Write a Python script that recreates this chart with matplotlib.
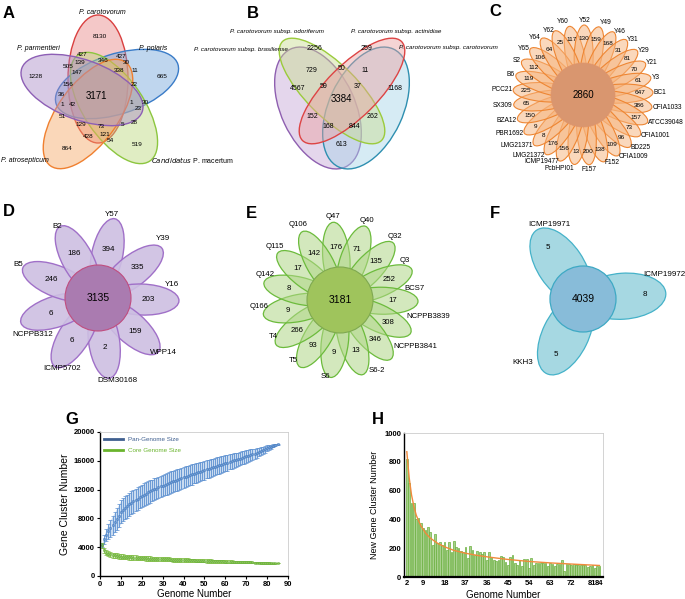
import numpy as np
import matplotlib.pyplot as plt
from matplotlib.patches import Ellipse, Circle
from matplotlib.lines import Line2D
from matplotlib.colors import to_rgba

plt.rcParams['font.family'] = ['Liberation Sans', 'DejaVu Sans']

# ---------------- data ----------------
# A: five species venn
a_names = ['P. carotovorum', 'P. parmentieri', 'P. polaris', 'P. atrosepticum']
a_counts = [8130, 1228, 665, 864, 519, 3171, 427, 427, 505, 139, 346, 30, 338, 11, 147,
            156, 22, 36, 1, 42, 1, 30, 23, 51, 129, 73, 5, 28, 428, 121, 54]

# B: P. carotovorum subspecies venn
b_names = ['P. carotovorum subsp. odoriferum', 'P. carotovorum subsp. brasiliense',
           'P. carotovorum subsp. actinidiae', 'P. carotovorum subsp. carotovorum']
b_counts = [2256, 259, 729, 50, 11, 4567, 59, 37, 1168, 3384, 152, 262, 168, 844, 613]

# C: P. carotovorum strains flower
c_core = 2860
c_strains = ['Y60', 'Y52', 'Y49', 'Y46', 'Y31', 'Y29', 'Y21', 'Y3', 'BC1', 'CFIA1033',
             'ATCC39048', 'CFIA1001', 'BD225', 'CFIA1009', 'F152', 'F157', 'PcbHPI01',
             'ICMP19477', 'LMG21372', 'LMG21371', 'PBR1692', 'BZA12', 'SX309', 'PCC21',
             'B6', 'S2', 'Y65', 'Y64', 'Y62']
c_unique = [117, 130, 159, 168, 31, 81, 70, 61, 647, 386, 157, 73, 96, 109, 138, 200, 13,
            156, 176, 8, 9, 150, 65, 225, 119, 112, 106, 64, 25]

# D
d_core = 3135
d_strains = ['Y57', 'Y39', 'Y16', 'WPP14', 'DSM30168', 'ICMP5702', 'NCPPB312', 'B5', 'B2']
d_unique = [394, 335, 203, 159, 2, 6, 6, 246, 186]

# E
e_core = 3181
e_strains = ['Q47', 'Q40', 'Q32', 'Q3', 'BCS7', 'NCPPB3839', 'NCPPB3841', 'S6-2', 'S6',
             'T5', 'T4', 'Q166', 'Q142', 'Q115', 'Q106']
e_unique = [176, 71, 135, 252, 17, 308, 346, 13, 9, 93, 266, 9, 8, 17, 142]

# F
f_core = 4039
f_strains = ['ICMP19971', 'ICMP19972', 'KKH3']
f_unique = [5, 8, 5]

# G: pan / core genome curves
g_genomes = np.arange(1, 86)
pan_mean = [4300, 5100, 5700, 6200, 6600, 7050, 7450, 7900, 8400, 8900,
            9200, 9450, 9700, 9950, 10150, 10350, 10550, 10750, 10950, 11150,
            11300, 11450, 11600, 11750, 11900, 12050, 12150, 12300, 12450, 12550,
            12700, 12800, 12900, 13050, 13150, 13250, 13350, 13450, 13600, 13700,
            13800, 13900, 14000, 14100, 14200, 14300, 14400, 14500, 14600, 14700,
            14800, 14900, 15000, 15100, 15200, 15300, 15350, 15450, 15550, 15650,
            15750, 15850, 15950, 16050, 16100, 16200, 16300, 16400, 16500, 16600,
            16700, 16800, 16900, 17000, 17100, 17200, 17350, 17450, 17600, 17750,
            17850, 17950, 18100, 18200, 18300]
pan_err = [300, 600, 800, 1000, 1200, 1300, 1400, 1500, 1550, 1600,
           1600, 1600, 1600, 1600, 1600, 1600, 1550, 1550, 1550, 1550,
           1550, 1550, 1550, 1550, 1500, 1500, 1500, 1500, 1500, 1500,
           1500, 1500, 1500, 1500, 1500, 1500, 1500, 1450, 1450, 1450,
           1450, 1400, 1400, 1400, 1350, 1350, 1350, 1300, 1300, 1300,
           1250, 1250, 1250, 1200, 1200, 1200, 1150, 1150, 1150, 1100,
           1100, 1050, 1050, 1000, 1000, 950, 950, 900, 900, 850,
           800, 800, 750, 700, 650, 600, 550, 500, 450, 400,
           350, 300, 250, 150, 80]
core_mean = [4300, 3550, 3250, 3100, 3000, 2900, 2850, 2800, 2750, 2700,
             2680, 2650, 2630, 2600, 2580, 2560, 2540, 2520, 2500, 2480,
             2460, 2450, 2430, 2420, 2400, 2390, 2370, 2360, 2350, 2340,
             2320, 2310, 2300, 2290, 2270, 2260, 2250, 2240, 2230, 2220,
             2200, 2190, 2180, 2170, 2160, 2150, 2140, 2130, 2120, 2110,
             2100, 2090, 2080, 2070, 2060, 2050, 2040, 2030, 2020, 2010,
             2000, 1990, 1980, 1970, 1960, 1950, 1940, 1930, 1920, 1910,
             1900, 1890, 1880, 1870, 1860, 1850, 1840, 1830, 1820, 1810,
             1800, 1795, 1790, 1785, 1780]
core_err = [350, 400, 400, 380, 370, 360, 350, 350, 340, 340,
            330, 330, 330, 320, 320, 320, 310, 310, 310, 300,
            300, 300, 300, 300, 300, 290, 290, 290, 290, 280,
            280, 280, 280, 270, 270, 270, 270, 260, 260, 260,
            260, 250, 250, 250, 250, 240, 240, 240, 230, 230,
            230, 220, 220, 220, 210, 210, 200, 200, 200, 190,
            190, 180, 180, 170, 170, 160, 160, 150, 150, 140,
            140, 130, 130, 120, 120, 110, 110, 100, 100, 90,
            80, 70, 60, 50, 40]

# H: new gene clusters
h_genomes = np.arange(2, 85)
h_new = [820, 655, 516, 512, 400, 407, 373, 338, 326, 345,
         315, 222, 300, 234, 245, 222, 245, 188, 240, 176,
         250, 210, 199, 183, 176, 206, 134, 215, 188, 153,
         180, 171, 157, 176, 118, 171, 141, 115, 110, 115,
         145, 140, 105, 85, 140, 150, 95, 80, 120, 75,
         125, 125, 65, 135, 85, 100, 100, 100, 100, 95,
         75, 100, 90, 75, 90, 90, 120, 45, 90, 90,
         85, 90, 80, 85, 85, 80, 85, 70, 75, 85,
         65, 75, 75]
h_fit_x = [2, 3, 4, 5, 6, 7, 8, 10, 12, 15, 18, 22, 27, 32, 37, 45, 54, 63, 72, 84]
h_fit_y = [870, 690, 570, 490, 430, 390, 355, 305, 270, 235, 210, 185, 165, 150, 138,
           122, 108, 98, 90, 80]
h_ticks = [2, 9, 18, 27, 36, 45, 54, 63, 72, 81, 84]
h_ticklabels = ['2', '9', '18', '37', '36', '45', '54', '63', '72', '81', '84']

# ---------------- layout ----------------
fig = plt.figure(figsize=(6.85, 5.99), dpi=100)
ax = fig.add_axes([0, 0, 1, 1])
ax.set_xlim(0, 685)
ax.set_ylim(599, 0)
ax.axis('off')


def ell(x, y, length, width, ang, fc, ec, alpha=0.5, lw=1.0, z=1):
    # ang = screen angle, counter clockwise
    ax.add_patch(Ellipse((x, y), length, width, angle=-ang, fc=to_rgba(fc, alpha),
                         ec=ec, lw=lw, zorder=z))


def petals(cx, cy, angles, rc, length, width, fc, ec, alpha, lw=0.9):
    for a in angles:
        t = np.radians(a)
        ell(cx + rc * np.cos(t), cy - rc * np.sin(t), length, width, a, fc, ec, alpha, lw)


def polar(cx, cy, r, a):
    t = np.radians(a)
    return cx + r * np.cos(t), cy - r * np.sin(t)


# ---- A ----
ax.text(3, 14, 'A', fontsize=12, fontweight='bold', va='center')
a_ell = [((98, 79), 90, '#E88585', '#D94040'),
         ((117, 84), 18, '#72A5DA', '#3A7CC8'),
         ((114, 108), -56, '#BBD97A', '#8CC63F'),
         ((88, 114), 54, '#F6A864', '#F08030'),
         ((82, 90), 160, '#A98AC6', '#8D5FB5')]
for (x, y), ang, fc, ec in a_ell:
    ell(x, y, 128, 60, ang, fc, ec, alpha=0.45, lw=1.0)
a_pos = [(100, 37), (36, 76), (162, 76), (67, 148), (137, 145), (96, 96), (82, 54), (121, 56),
         (68, 67), (80, 62), (103, 61), (126, 63), (119, 71), (135, 71), (77, 73), (68, 84),
         (134, 85), (61, 94), (62, 104), (72, 104), (131, 103), (145, 102), (138, 109),
         (62, 116), (81, 125), (101, 126), (123, 124), (134, 123), (88, 136), (105, 135),
         (110, 141)]
for v, (x, y) in zip(a_counts, a_pos):
    ax.text(x, y, str(v), fontsize=7 if v == 3171 else 4.6, ha='center', va='center', zorder=5)
a_lab_pos = [(102, 13), (38, 48), (153, 48), (25, 161)]
for name, (x, y) in zip(a_names, a_lab_pos):
    ax.text(x, y, name, fontsize=5, style='italic', ha='center', va='center')
ax.text(192, 160, r'$\it{Candidatus}$ P. macertum', fontsize=5, ha='center', va='center')

# ---- B ----
ax.text(247, 14, 'B', fontsize=12, fontweight='bold', va='center')
b_ell = [((318, 108), 130, 74, -65, '#C4A5D6', '#8E5FB0'),
         ((366, 108), 130, 74, 65, '#A6D3E8', '#2E8FB0'),
         ((332, 91), 140, 52, -45, '#C9DD8E', '#9BCB3C'),
         ((352, 91), 140, 52, 45, '#EBA0A0', '#DD4444')]
for (x, y), L, W, ang, fc, ec in b_ell:
    ell(x, y, L, W, ang, fc, ec, alpha=0.45, lw=1.0)
b_pos = [(314, 49), (367, 48), (312, 71), (342, 68), (365, 71), (298, 88), (324, 86),
         (358, 86), (395, 88), (341, 99), (312, 117), (373, 117), (328, 126), (355, 126),
         (342, 144)]
for v, (x, y) in zip(b_counts, b_pos):
    ax.text(x, y, str(v), fontsize=7 if v == 3384 else 5, ha='center', va='center', zorder=5)
b_lab_pos = [(277, 31), (241, 50), (396, 32), (448, 48)]
for name, (x, y) in zip(b_names, b_lab_pos):
    ax.text(x, y, name, fontsize=4.5, style='italic', ha='center', va='center')

# ---- C ----
ax.text(489, 12, 'C', fontsize=12, fontweight='bold', va='center')
ccx, ccy = 583, 95
c_ang = [101.4 - 360 / 29 * i for i in range(len(c_strains))]
petals(ccx, ccy, c_ang, 38, 64, 19, '#F6B27A', '#EE8633', 0.5, lw=0.8)
ax.add_patch(Circle((ccx, ccy), 32, fc='#D9966F', ec='#E0956A', lw=0.5, zorder=3))
ax.text(ccx, ccy, str(c_core), fontsize=7, ha='center', va='center', zorder=5)
for a, name, v in zip(c_ang, c_strains, c_unique):
    x, y = polar(ccx, ccy, 57, a)
    ax.text(x, y, str(v), fontsize=4.6, ha='center', va='center', zorder=5)
    c, s = np.cos(np.radians(a)), np.sin(np.radians(a))
    x, y = polar(ccx, ccy, 71, a)
    ha = 'left' if c > 0.1 else ('right' if c < -0.1 else 'center')
    va = 'center'
    if abs(c) < 0.3:
        va = 'bottom' if s > 0 else 'top'
    ax.text(x, y, name, fontsize=4.8, ha=ha, va=va)

# ---- D ----
ax.text(3, 212, 'D', fontsize=12, fontweight='bold', va='center')
dcx, dcy = 98, 298
d_ang = [78 - 40 * i for i in range(len(d_strains))]
petals(dcx, dcy, d_ang, 44, 74, 31, '#CDBFE2', '#A070C8', 0.9, lw=1.0)
ax.add_patch(Circle((dcx, dcy), 33, fc='#AA7BB0', ec='#C04D7F', lw=0.8, zorder=3))
ax.text(dcx, dcy, str(d_core), fontsize=7.5, ha='center', va='center', zorder=5)
for a, v in zip(d_ang, d_unique):
    x, y = polar(dcx, dcy, 50, a)
    ax.text(x, y, str(v), fontsize=5.8, ha='center', va='center', zorder=5)
d_lab_pos = [(112, 215), (163, 238), (172, 284), (163, 352), (117, 381), (62, 368),
             (33, 334), (18, 264), (57, 226)]
for name, (x, y) in zip(d_strains, d_lab_pos):
    ax.text(x, y, name, fontsize=5.8, ha='center', va='center')

# ---- E ----
ax.text(246, 213, 'E', fontsize=12, fontweight='bold', va='center')
ecx, ecy = 340, 300
e_ang = [95 - 24 * i for i in range(len(e_strains))]
petals(ecx, ecy, e_ang, 42, 72, 27, '#B0D687', '#6CBB3C', 0.55, lw=0.9)
ax.add_patch(Circle((ecx, ecy), 33, fc='#9FC45C', ec='#7FA950', lw=0.8, zorder=3))
ax.text(ecx, ecy, str(e_core), fontsize=7.5, ha='center', va='center', zorder=5)
for a, v in zip(e_ang, e_unique):
    x, y = polar(ecx, ecy, 53, a)
    ax.text(x, y, str(v), fontsize=5.6, ha='center', va='center', zorder=5)
e_lab_pos = [(333, 217), (367, 221), (395, 237), (405, 261), (415, 288), (428, 317),
             (415, 346), (377, 371), (325, 377), (293, 360), (273, 337), (259, 306),
             (265, 275), (275, 246), (298, 225)]
for name, (x, y) in zip(e_strains, e_lab_pos):
    ax.text(x, y, name, fontsize=5.6, ha='center', va='center')

# ---- F ----
ax.text(490, 213, 'F', fontsize=12, fontweight='bold', va='center')
fcx, fcy = 583, 299
f_ang = [124, 4, -116]
petals(fcx, fcy, f_ang, 40, 86, 46, '#A6D8E2', '#45B2C9', 1.0, lw=0.9)
ax.add_patch(Circle((fcx, fcy), 33, fc='#88BCD9', ec='#3EA9C4', lw=0.9, zorder=3))
ax.text(fcx, fcy, str(f_core), fontsize=7.5, ha='center', va='center', zorder=5)
for a, v in zip(f_ang, f_unique):
    x, y = polar(fcx, fcy, 62, a)
    ax.text(x, y, str(v), fontsize=5.8, ha='center', va='center', zorder=5)
f_lab_pos = [(549, 225), (664, 274), (523, 363)]
for name, (x, y) in zip(f_strains, f_lab_pos):
    ax.text(x, y, name, fontsize=5.8, ha='center', va='center')

# ---- G ----
ax.text(65, 420, 'G', fontsize=12, fontweight='bold', va='center')
axg = fig.add_axes([100 / 685, 23 / 599, 188 / 685, 144 / 599])
pan_lo = np.array(pan_mean) - np.array(pan_err)
pan_hi = np.array(pan_mean) + np.array(pan_err)
axg.fill_between(g_genomes, pan_lo, pan_hi, color='#C9DBF0', lw=0)
axg.errorbar(g_genomes, pan_mean, yerr=pan_err, fmt='s', ms=1.3, mfc='none', mec='#4A7FC1',
             mew=0.5, ecolor='#5B8FD0', elinewidth=0.6, capsize=1.4, capthick=0.5)
core_lo = np.array(core_mean) - np.array(core_err)
core_hi = np.array(core_mean) + np.array(core_err)
axg.fill_between(g_genomes, core_lo, core_hi, color='#D5EBC0', lw=0)
axg.errorbar(g_genomes, core_mean, yerr=core_err, fmt='s', ms=1.3, mfc='none', mec='#6DB33F',
             mew=0.5, ecolor='#7DBB42', elinewidth=0.6, capsize=1.4, capthick=0.5)
axg.set_xlim(0, 90)
axg.set_ylim(0, 20000)
axg.set_xticks(range(0, 91, 10))
axg.set_yticks(range(0, 20001, 4000))
axg.tick_params(labelsize=5.5, length=2, width=0.8, pad=1.5)
for t in axg.get_xticklabels() + axg.get_yticklabels():
    t.set_fontweight('bold')
axg.set_xlabel('Genome Number', fontsize=7, labelpad=0.5)
axg.set_ylabel('Gene Cluster Number', fontsize=7.5, labelpad=3)
for s in ['top', 'right']:
    axg.spines[s].set_color('#CCCCCC')
    axg.spines[s].set_linewidth(0.6)
for s in ['left', 'bottom']:
    axg.spines[s].set_linewidth(1.0)
handles = [Line2D([], [], color='#3F5F8F', lw=2), Line2D([], [], color='#6AB42D', lw=2)]
leg = axg.legend(handles, ['Pan-Genome Size', 'Core Genome Size'], loc='upper left',
                 fontsize=4.5, frameon=False, handlelength=3, labelspacing=1.0,
                 borderaxespad=0.3)
for txt, col in zip(leg.get_texts(), ['#3F5F8F', '#6AB42D']):
    txt.set_color(col)

# ---- H ----
ax.text(372, 420, 'H', fontsize=12, fontweight='bold', va='center')
axh = fig.add_axes([404 / 685, 22 / 599, 199 / 685, 144 / 599])
axh.bar(h_genomes, h_new, width=0.75, color='#A8D08D', edgecolor='#6AAF3D', lw=0.5)
axh.plot(h_fit_x, h_fit_y, color='#F08A3C', lw=1.0)
axh.set_xlim(0.8, 85.5)
axh.set_ylim(0, 1000)
axh.set_xticks(h_ticks)
axh.set_xticklabels(h_ticklabels)
axh.set_yticks(range(0, 1001, 200))
axh.tick_params(labelsize=5.5, length=0, pad=2)
for t in axh.get_xticklabels() + axh.get_yticklabels():
    t.set_fontweight('bold')
axh.set_xlabel('Genome Number', fontsize=7, labelpad=2.5)
axh.set_ylabel('New Gene Cluster Number', fontsize=6.5, labelpad=4)
for s in ['top', 'right']:
    axh.spines[s].set_color('#CCCCCC')
    axh.spines[s].set_linewidth(0.6)
axh.spines['left'].set_linewidth(1.0)
axh.spines['bottom'].set_linewidth(1.6)

fig.savefig('out.png', dpi=100)
